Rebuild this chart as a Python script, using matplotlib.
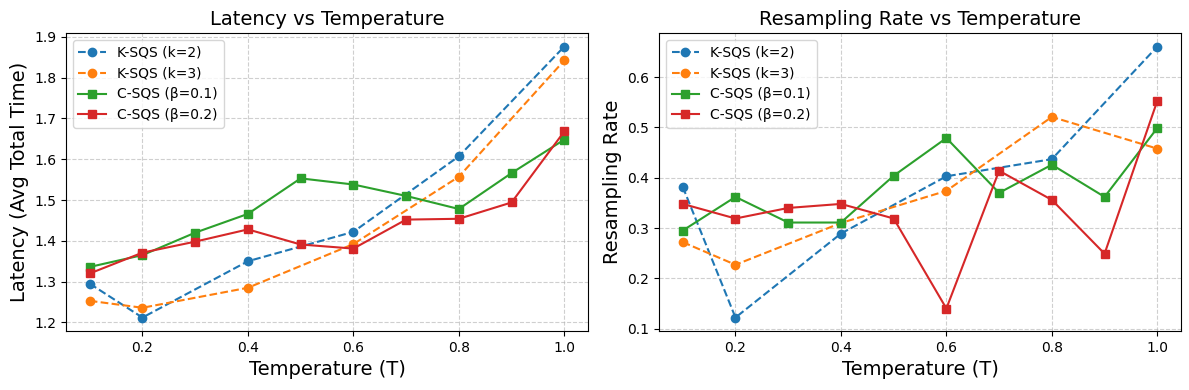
import matplotlib.pyplot as plt

temps = [0.1, 0.2, 0.3, 0.4, 0.5, 0.6, 0.7, 0.8, 0.9, 1.0]
temps_k = [0.1, 0.2, 0.4, 0.6, 0.8, 1.0]

# latency (avg total time)
lat_k2 = [1.295, 1.212, 1.350, 1.422, 1.607, 1.876]
lat_k3 = [1.253, 1.236, 1.285, 1.392, 1.557, 1.842]
lat_c1 = [1.336, 1.365, 1.420, 1.466, 1.553, 1.538, 1.510, 1.478, 1.566, 1.648]
lat_c2 = [1.320, 1.371, 1.398, 1.428, 1.391, 1.381, 1.452, 1.454, 1.494, 1.668]

# resampling rate
res_k2 = [0.382, 0.122, 0.289, 0.403, 0.437, 0.661]
res_k3 = [0.272, 0.227, 0.310, 0.374, 0.521, 0.458]
res_c1 = [0.295, 0.362, 0.311, 0.311, 0.404, 0.479, 0.370, 0.426, 0.362, 0.499]
res_c2 = [0.348, 0.319, 0.340, 0.348, 0.319, 0.140, 0.414, 0.356, 0.249, 0.553]

fig, axes = plt.subplots(1, 2, figsize=(11.89, 3.9), dpi=100)

panels = [
    (axes[0], lat_k2, lat_k3, lat_c1, lat_c2, 'Latency (Avg Total Time)', 'Latency vs Temperature'),
    (axes[1], res_k2, res_k3, res_c1, res_c2, 'Resampling Rate', 'Resampling Rate vs Temperature'),
]

for ax, k2, k3, c1, c2, ylabel, title in panels:
    ax.plot(temps_k, k2, 'o--', color='tab:blue', label='K-SQS (k=2)')
    ax.plot(temps_k, k3, 'o--', color='tab:orange', label='K-SQS (k=3)')
    ax.plot(temps, c1, 's-', color='tab:green', label='C-SQS (β=0.1)')
    ax.plot(temps, c2, 's-', color='tab:red', label='C-SQS (β=0.2)')
    ax.set_xlabel('Temperature (T)', fontsize=14)
    ax.set_ylabel(ylabel, fontsize=14)
    ax.set_title(title, fontsize=14)
    ax.grid(True, linestyle='--', alpha=0.6)
    ax.legend(loc='upper left')

plt.subplots_adjust(left=0.0555, right=0.9933, top=0.9154, bottom=0.151, wspace=0.136)
plt.savefig('out.png')
